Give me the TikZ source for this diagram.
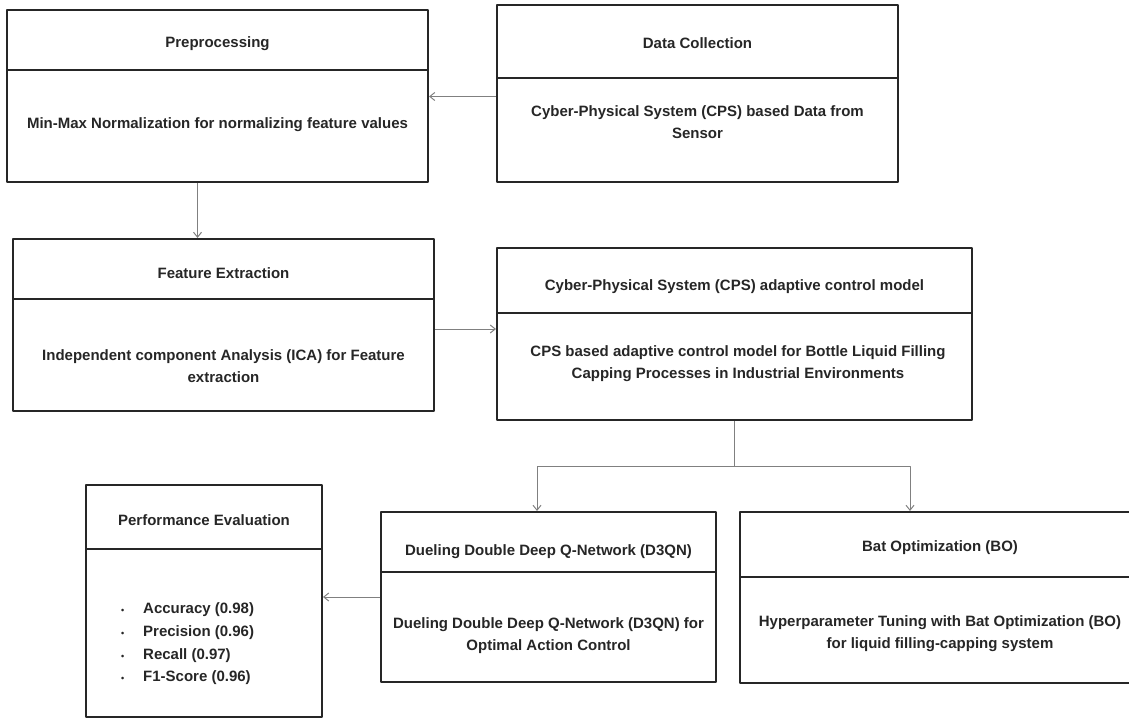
\documentclass[tikz,border=0pt]{standalone}
\usepackage{fontspec}
\setmainfont{Liberation Sans}
\usetikzlibrary{arrows.meta}
\tikzset{
  box/.style={draw=black!85, line width=2pt, rectangle, inner sep=0pt},
  sep/.style={draw=black!85, line width=2pt},
  lbl/.style={inner sep=0pt, align=center, text=black!85},
  arr/.style={-{Straight Barb[length=5pt,width=8pt]}, draw=black!50, line width=1pt},
  link/.style={draw=black!50, line width=1pt}
}
\newcommand{\pitem}[1]{\makebox[22pt][l]{\fontsize{9}{9}\selectfont\textbullet}#1}
\begin{document}
\begin{tikzpicture}[x=1pt, y=-1pt, font=\fontsize{15}{22}\selectfont\bfseries, line join=round]
			\useasboundingbox (0,0) rectangle (1129,719);
			% boxes
			\node[box, minimum width=421pt, minimum height=172pt] (pre) at (217.5,96) {};
			\node[box, minimum width=401pt, minimum height=177pt] (dc) at (697.5,93.5) {};
			\node[box, minimum width=421pt, minimum height=172pt] (fe) at (223.5,325) {};
			\node[box, minimum width=475pt, minimum height=172pt] (cps) at (734.5,334) {};
			\node[box, minimum width=236pt, minimum height=232pt] (perf) at (204,601) {};
			\node[box, minimum width=335pt, minimum height=170pt] (dqn) at (548.5,597) {};
			\node[box, minimum width=400pt, minimum height=171pt] (bo) at (940,597.5) {};
			% title bars
			\draw[sep] ([yshift=-61pt]pre.north west) -- ([yshift=-61pt]pre.north east);
			\draw[sep] ([yshift=-74pt]dc.north west) -- ([yshift=-74pt]dc.north east);
			\draw[sep] ([yshift=-61pt]fe.north west) -- ([yshift=-61pt]fe.north east);
			\draw[sep] ([yshift=-66pt]cps.north west) -- ([yshift=-66pt]cps.north east);
			\draw[sep] ([yshift=-65pt]perf.north west) -- ([yshift=-65pt]perf.north east);
			\draw[sep] ([yshift=-61pt]dqn.north west) -- ([yshift=-61pt]dqn.north east);
			\draw[sep] ([yshift=-66pt]bo.north west) -- ([yshift=-66pt]bo.north east);
			% texts
			\node[lbl] (preT) at (217.5,44) {Preprocessing};
			\node[lbl] (preB) at (217.5,125) {Min-Max Normalization for normalizing feature values};
			\node[lbl] (dcT) at (697.5,43) {Data Collection};
			\node[lbl] (dcB) at (697.5,122.5) {Cyber-Physical System (CPS) based Data from\\Sensor};
			\node[lbl] (feT) at (223.5,273) {Feature Extraction};
			\node[lbl] (feB) at (223.5,366) {Independent component Analysis (ICA) for Feature\\extraction};
			\node[lbl] (cpsT) at (734.5,287) {Cyber-Physical System (CPS) adaptive control model};
			\node[lbl] (cpsB) at (738,364) {CPS based adaptive control model for Bottle Liquid Filling\\Capping Processes in Industrial Environments};
			\node[lbl] (perfT) at (204,520) {Performance Evaluation};
			\node[lbl, align=left, anchor=west, font=\fontsize{15}{22.7}\selectfont\bfseries] (perfB) at (121,644)
				{\pitem{Accuracy (0.98)}\\\pitem{Precision (0.96)}\\\pitem{Recall (0.97)}\\\pitem{F1-Score (0.96)}};
			\node[lbl] (dqnT) at (548.5,552) {Dueling Double Deep Q-Network (D3QN)};
			\node[lbl] (dqnB) at (548.5,636) {Dueling Double Deep Q-Network (D3QN) for\\Optimal Action Control};
			\node[lbl] (boT) at (940,548) {Bat Optimization (BO)};
			\node[lbl] (boB) at (940,634) {Hyperparameter Tuning with Bat Optimization (BO)\\for liquid filling-capping system};
			% connectors
			\draw[arr] ([yshift=-3pt]dc.west) -- ([yshift=-3pt]dc.west -| pre.east);
			\draw[arr] ([xshift=-20pt]pre.south) -- ([xshift=-20pt]pre.south |- fe.north);
			\draw[arr] ([yshift=-4pt]fe.east) -- ([yshift=-4pt]fe.east -| cps.west);
			\coordinate (split) at (cps.south |- 0,466);
			\draw[link] (cps.south) -- (split);
			\draw[arr] (split) -| ([xshift=-11.5pt]dqn.north);
			\draw[arr] (split) -| ([xshift=-30pt]bo.north);
			\draw[arr] (dqn.west) -- (dqn.west -| perf.east);
	\end{tikzpicture}
\end{document}
